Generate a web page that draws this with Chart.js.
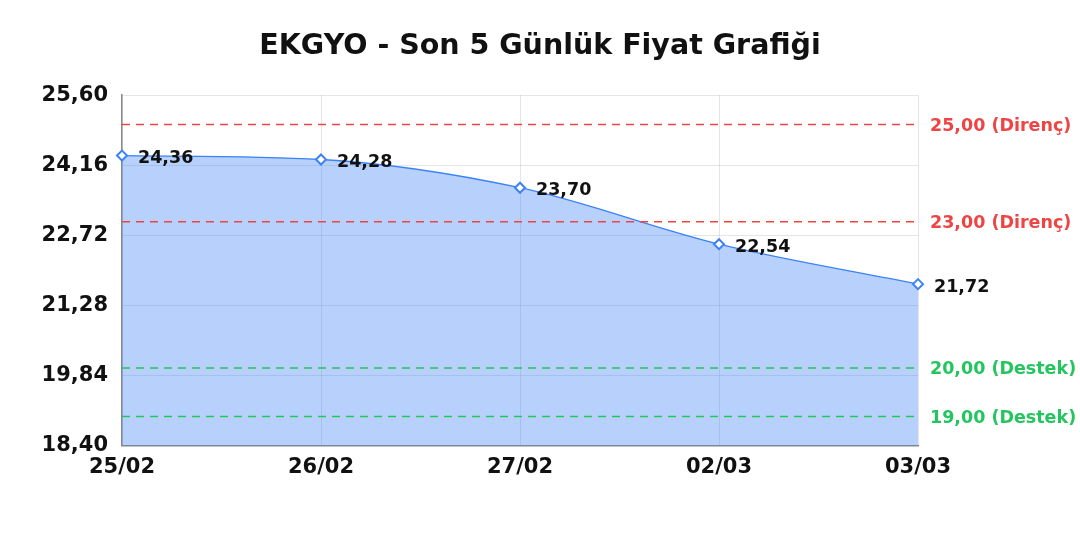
<!DOCTYPE html>
<html>
<head>
<meta charset="utf-8">
<script src="https://cdn.jsdelivr.net/npm/chart.js@4"></script>
<style>
  html, body { margin: 0; padding: 0; background: #fff; }
  #wrap { width: 1080px; height: 540px; }
</style>
</head>
<body>
<div id="wrap"><canvas id="price_chart"></canvas></div>
<script>
var days = ['25/02', '26/02', '27/02', '02/03', '03/03'];
var prices = [24.36, 24.28, 23.70, 22.54, 21.72];
var yTicks = [18.40, 19.84, 21.28, 22.72, 24.16, 25.60];
var resistLevels = [25.00, 23.00];
var supportLevels = [20.00, 19.00];

var blue = '#3b82f6';
var red = '#ef4444';
var green = '#22c55e';
var font = '"DejaVu Sans"';

function fmt(v) {
    return v.toFixed(2).replace('.', ',');
}

function levelSet(value, color) {
    return {
        label: fmt(value),
        data: days.map(function () { return value; }),
        borderColor: color,
        borderWidth: 1.5,
        borderDash: [8, 6],
        pointRadius: 0,
        fill: false,
        order: 1
    };
}

var datasets = [{
    label: 'EKGYO',
    data: prices,
    borderColor: blue,
    borderWidth: 1.3,
    backgroundColor: 'rgba(59,130,246,0.37)',
    fill: 'origin',
    cubicInterpolationMode: 'monotone',
    pointStyle: 'rectRot',
    pointRadius: 5,
    pointBackgroundColor: '#ffffff',
    pointBorderColor: blue,
    pointBorderWidth: 2,
    order: 2
}];
resistLevels.forEach(function (v) { datasets.push(levelSet(v, red)); });
supportLevels.forEach(function (v) { datasets.push(levelSet(v, green)); });

// value labels next to points and text for the dashed levels
var labelPlugin = {
    id: 'labels',
    afterDatasetsDraw: function (chart) {
        var ctx = chart.ctx;
        var y = chart.scales.y;
        var area = chart.chartArea;
        ctx.save();
        ctx.font = 'bold 17.5px ' + font;
        ctx.textAlign = 'left';
        ctx.textBaseline = 'middle';
        var pts = chart.getDatasetMeta(0).data;
        pts.forEach(function (p, i) {
            ctx.fillStyle = '#111111';
            ctx.fillText(fmt(prices[i]), p.x + 16, p.y + 3);
        });
        resistLevels.forEach(function (v) {
            ctx.fillStyle = red;
            ctx.fillText(fmt(v) + ' (Direnç)', area.right + 12, y.getPixelForValue(v) + 2);
        });
        supportLevels.forEach(function (v) {
            ctx.fillStyle = green;
            ctx.fillText(fmt(v) + ' (Destek)', area.right + 12, y.getPixelForValue(v) + 2);
        });
        ctx.restore();
    }
};

var chart = new Chart(document.getElementById('price_chart'), {
    type: 'line',
    data: { labels: days, datasets: datasets },
    plugins: [labelPlugin],
    options: {
        responsive: true,
        maintainAspectRatio: false,
        animation: false,
        layout: { padding: { top: 0, right: 0, bottom: 51, left: 0 } },
        plugins: {
            legend: { display: false },
            tooltip: { enabled: false },
            title: {
                display: true,
                text: 'EKGYO - Son 5 Günlük Fiyat Grafiği',
                color: '#111111',
                font: { family: font, size: 28.5, weight: 'bold' },
                padding: { top: 29, bottom: 32 }
            }
        },
        scales: {
            x: {
                grid: { color: 'rgba(0,0,0,0.1)', drawTicks: false },
                border: { color: '#888888', width: 1.5 },
                ticks: { color: '#111111', font: { family: font, size: 21, weight: 'bold' }, padding: 9, maxRotation: 0 }
            },
            y: {
                min: yTicks[0],
                max: yTicks[yTicks.length - 1],
                afterBuildTicks: function (scale) {
                    scale.ticks = yTicks.map(function (v) { return { value: v }; });
                },
                afterFit: function (scale) { scale.width = 122; },
                grid: { color: 'rgba(0,0,0,0.1)', drawTicks: false },
                border: { color: '#888888', width: 1.5 },
                ticks: {
                    color: '#111111',
                    font: { family: font, size: 21, weight: 'bold' },
                    padding: 14,
                    callback: function (v) { return fmt(v); }
                }
            },
            // empty right side keeps room for the level labels
            side: {
                position: 'right',
                display: true,
                grid: { display: false },
                border: { display: false },
                ticks: { display: false },
                afterFit: function (scale) { scale.width = 162; }
            }
        }
    }
});
</script>
</body>
</html>
